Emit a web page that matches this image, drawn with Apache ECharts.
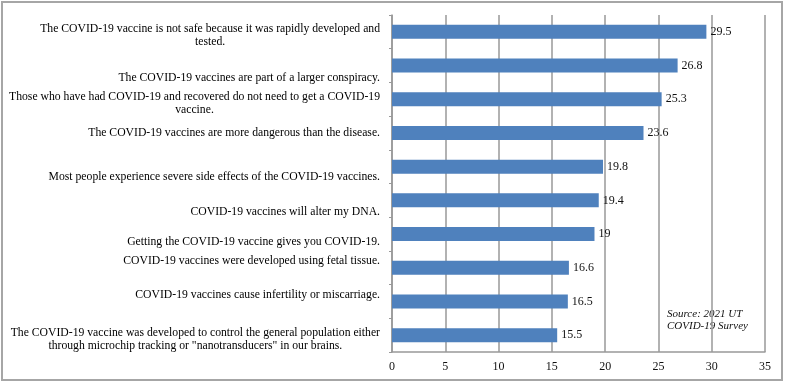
<!DOCTYPE html>
<html>
<head>
<meta charset="utf-8">
<script src="https://cdn.jsdelivr.net/npm/echarts@6/dist/echarts.min.js"></script>
<style>
  html, body { margin: 0; padding: 0; background: #fff; }
  #chart { width: 787px; height: 383px; }
</style>
</head>
<body>
<div id="chart"></div>
<script>
// 数据
const statements = [
  'The COVID-19 vaccine is not safe because it was rapidly developed and\ntested.',
  'The COVID-19 vaccines are part of a larger conspiracy.',
  'Those who have had COVID-19 and recovered do not need to get a COVID-19\nvaccine.',
  'The COVID-19 vaccines are more dangerous than the disease.',
  'Most people experience severe side effects of the COVID-19 vaccines.',
  'COVID-19 vaccines will alter my DNA.',
  'Getting the COVID-19 vaccine gives you COVID-19.',
  'COVID-19 vaccines were developed using fetal tissue.',
  'COVID-19 vaccines cause infertility or miscarriage.',
  'The COVID-19 vaccine was developed to control the general population either\nthrough microchip tracking or "nanotransducers" in our brains.'
];
const percents = [29.5, 26.8, 25.3, 23.6, 19.8, 19.4, 19, 16.6, 16.5, 15.5];
const xTicks = [0, 5, 10, 15, 20, 25, 30, 35];
const sourceNote = 'Source: 2021 UT\nCOVID-19 Survey';

// label boxes in the original sit a little off their bars (px, + = down)
const labelNudge = [4, 12, 4, 0, 10, 12, 8, -7, -7, 4];

const serif = '"Liberation Serif", "Times New Roman", serif';
const gridGrey = '#999';

let chart = echarts.init(document.getElementById('chart'), null, { renderer: 'canvas' });

let option = {
  animation: false,
  grid: { left: 392, right: 22, top: 15, bottom: 31, containLabel: false, outerBoundsMode: 'none' },
  xAxis: {
    type: 'value',
    min: 0,
    max: 35,
    interval: 5,
    axisLine: { show: true, lineStyle: { color: gridGrey, width: 1.5 } },
    axisTick: { show: false },
    splitLine: { show: true, lineStyle: { color: gridGrey, width: 1.5 } },
    axisLabel: {
      margin: 9,
      color: '#111',
      fontFamily: serif,
      fontSize: 12,
      formatter: function (v) {
        return xTicks.indexOf(v) >= 0 ? String(v) : '';
      }
    }
  },
  yAxis: {
    type: 'category',
    inverse: true,
    data: statements.map(function (s, i) {
      let d = labelNudge[i];
      return {
        value: s,
        textStyle: { padding: d >= 0 ? [2 * d, 0, 0, 0] : [0, 0, -2 * d, 0] }
      };
    }),
    axisLine: { show: true, lineStyle: { color: gridGrey, width: 1.5 } },
    axisTick: { show: true, length: 3, lineStyle: { color: gridGrey } },
    splitLine: { show: false },
    axisLabel: {
      interval: 0,
      hideOverlap: false,
      margin: 12,
      color: '#000',
      fontFamily: serif,
      fontSize: 11.7,
      lineHeight: 13,
      formatter: function (v) {
        return v.split('\n').map(function (l) { return '{c|' + l + '}'; }).join('\n');
      },
      rich: {
        c: { align: 'center', fontFamily: serif, fontSize: 11.7, lineHeight: 13, color: '#000' }
      }
    }
  },
  series: [{
    type: 'bar',
    data: percents,
    barWidth: 14,
    itemStyle: { color: '#4F81BD' },
    label: {
      show: true,
      position: 'right',
      distance: 4,
      color: '#111',
      fontFamily: serif,
      fontSize: 12
    }
  }],
  graphic: [
    {
      type: 'rect',
      shape: { x: 2, y: 2, width: 780, height: 378 },
      style: { fill: 'none', stroke: '#a6a6a6', lineWidth: 2 },
      silent: true
    },
    {
      type: 'text',
      left: 667,
      top: 308,
      style: {
        text: sourceNote,
        fontFamily: serif,
        fontStyle: 'italic',
        fontSize: 11,
        lineHeight: 12,
        fill: '#111'
      }
    }
  ]
};

chart.setOption(option);
</script>
</body>
</html>
